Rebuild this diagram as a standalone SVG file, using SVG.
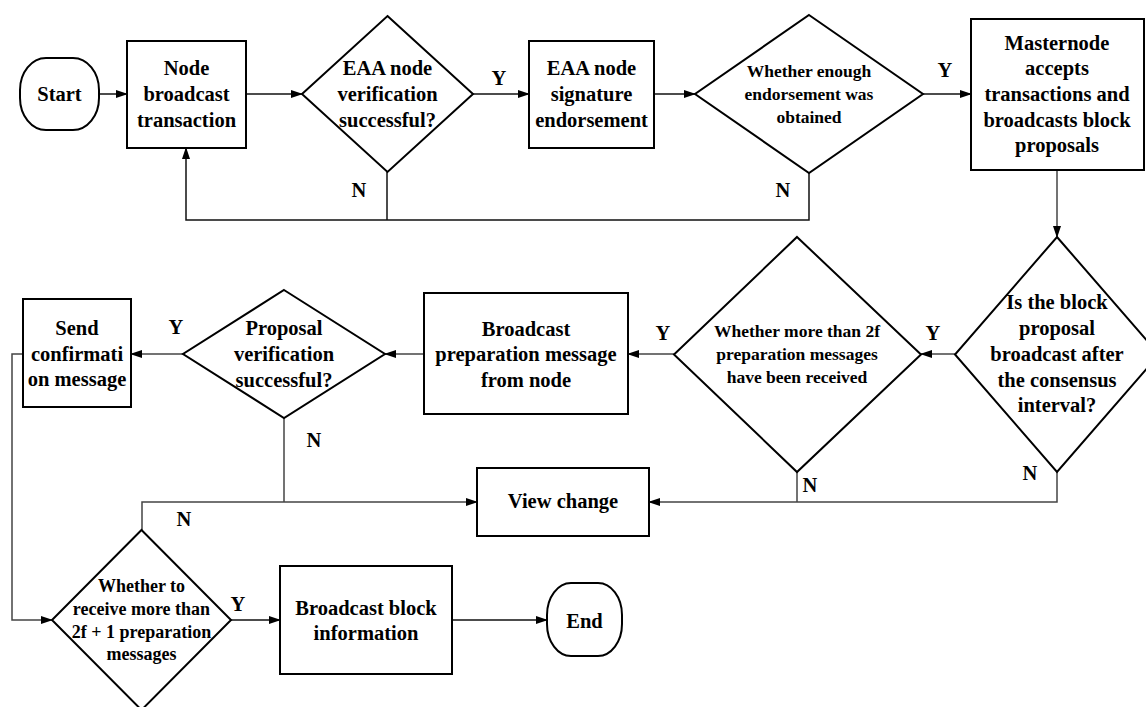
<svg xmlns="http://www.w3.org/2000/svg" width="1146" height="707" viewBox="0 0 1146 707">
  <defs>
    <marker id="arrow" markerUnits="userSpaceOnUse" markerWidth="12" markerHeight="8" refX="11" refY="4" orient="auto">
      <path d="M0,0 L12,4 L0,8 Z" fill="#000"/>
    </marker>
    <style>
      .shape { fill: #fff; stroke: #000; stroke-width: 2; }
      .conn { fill: none; stroke: #111; stroke-width: 1.5; }
      .conn.grey { stroke: #444; }
      .arr { marker-end: url(#arrow); }
      text { font-family: "Liberation Serif", "Times New Roman", "DejaVu Serif", serif; font-weight: 700; fill: #000; text-anchor: middle; }
      .t20 { font-size: 20.5px; }
      .t17 { font-size: 17.5px; }
      .t18 { font-size: 18px; }
      .lbl { font-size: 20.5px; }
    </style>
  </defs>

  <rect width="1146" height="707" fill="#fff"/>

  <!-- connectors -->
  <g id="connectors">
    <path class="conn arr" d="M99,94 H127"/>
    <path class="conn arr" d="M246,94 H302"/>
    <path class="conn arr" d="M473,94 H529"/>
    <path class="conn arr" d="M654,94 H695"/>
    <path class="conn arr" d="M923,94 H971"/>
    <path class="conn" d="M387,172 V220"/>
    <path class="conn arr" d="M809,173 V220 H186 V148"/>
    <path class="conn grey arr" d="M1057,170 V237"/>
    <path class="conn grey arr" d="M955,354 H921"/>
    <path class="conn grey arr" d="M674,354 H628"/>
    <path class="conn grey arr" d="M424,354 H385"/>
    <path class="conn grey arr" d="M183,354 H131"/>
    <path class="conn grey arr" d="M23,354 H12 V620 H52"/>
    <path class="conn grey" d="M284,418 V502"/>
    <path class="conn grey arr" d="M142,530 V502 H477"/>
    <path class="conn grey" d="M797,472 V502"/>
    <path class="conn grey arr" d="M1057,472 V502 H649"/>
    <path class="conn arr" d="M231,620 H280"/>
    <path class="conn arr" d="M452,620 H547"/>

    <!-- branch labels -->
    <text class="lbl" x="499" y="85">Y</text>
    <text class="lbl" x="945" y="77">Y</text>
    <text class="lbl" x="359" y="197">N</text>
    <text class="lbl" x="783" y="197">N</text>
    <text class="lbl" x="933" y="340">Y</text>
    <text class="lbl" x="663" y="340">Y</text>
    <text class="lbl" x="1030" y="480">N</text>
    <text class="lbl" x="810" y="492">N</text>
    <text class="lbl" x="176" y="334">Y</text>
    <text class="lbl" x="314" y="447">N</text>
    <text class="lbl" x="184" y="526">N</text>
    <text class="lbl" x="238" y="611">Y</text>
  </g>

  <g id="start">
    <rect class="shape" x="20" y="58" width="79" height="72" rx="26" ry="32"/>
    <text class="t20" x="59.5" y="101">Start</text>
  </g>

  <g id="node-broadcast">
    <rect class="shape" x="127" y="41" width="119" height="107"/>
    <text class="t20" x="186.5" y="75">Node</text>
    <text class="t20" x="186.5" y="101">broadcast</text>
    <text class="t20" x="186.5" y="127">transaction</text>
  </g>

  <g id="eaa-verify">
    <polygon class="shape" points="387.5,16 473,94 387.5,172 302,94"/>
    <text class="t20" x="387.5" y="75">EAA node</text>
    <text class="t20" x="387.5" y="101">verification</text>
    <text class="t20" x="387.5" y="127">successful?</text>
  </g>

  <g id="eaa-endorse">
    <rect class="shape" x="529" y="41" width="125" height="107"/>
    <text class="t20" x="591.5" y="75">EAA node</text>
    <text class="t20" x="591.5" y="101">signature</text>
    <text class="t20" x="591.5" y="127">endorsement</text>
  </g>

  <g id="enough-endorsement">
    <polygon class="shape" points="809,15 923,94 809,173 695,94"/>
    <text class="t17" x="809" y="77">Whether enough</text>
    <text class="t17" x="809" y="100">endorsement was</text>
    <text class="t17" x="809" y="123">obtained</text>
  </g>

  <g id="masternode">
    <rect class="shape" x="971" y="19" width="173" height="151"/>
    <text class="t20" x="1057" y="50">Masternode</text>
    <text class="t20" x="1057" y="75">accepts</text>
    <text class="t20" x="1057" y="101">transactions and</text>
    <text class="t20" x="1057" y="127">broadcasts block</text>
    <text class="t20" x="1057" y="152">proposals</text>
  </g>

  <g id="consensus-interval">
    <polygon class="shape" points="1057,237 1159,354.5 1057,472 955,354.5"/>
    <text class="t20" x="1057" y="309">Is the block</text>
    <text class="t20" x="1057" y="335">proposal</text>
    <text class="t20" x="1057" y="361">broadcast after</text>
    <text class="t20" x="1057" y="387">the consensus</text>
    <text class="t20" x="1057" y="412">interval?</text>
  </g>

  <g id="prep-received">
    <polygon class="shape" points="797,237 921,354.5 797,472 674,354.5"/>
    <text class="t17" x="797" y="337">Whether more than 2f</text>
    <text class="t17" x="797" y="360">preparation messages</text>
    <text class="t17" x="797" y="383">have been received</text>
  </g>

  <g id="broadcast-prep">
    <rect class="shape" x="424" y="293" width="204" height="121"/>
    <text class="t20" x="526" y="336">Broadcast</text>
    <text class="t20" x="526" y="361">preparation message</text>
    <text class="t20" x="526" y="387">from node</text>
  </g>

  <g id="proposal-verify">
    <polygon class="shape" points="284,290 385,354 284,418 183,354"/>
    <text class="t20" x="284" y="335">Proposal</text>
    <text class="t20" x="284" y="361">verification</text>
    <text class="t20" x="284" y="387">successful?</text>
  </g>

  <g id="send-confirm">
    <rect class="shape" x="23" y="299" width="108" height="108"/>
    <text class="t20" x="77" y="335">Send</text>
    <text class="t20" x="77" y="361">confirmati</text>
    <text class="t20" x="77" y="386">on message</text>
  </g>

  <g id="view-change">
    <rect class="shape" x="477" y="468" width="172" height="68"/>
    <text class="t20" x="563" y="508">View change</text>
  </g>

  <g id="commit-threshold">
    <polygon class="shape" points="141.5,530 231,620 141.5,710 52,620"/>
    <text class="t18" x="141.5" y="592">Whether to</text>
    <text class="t18" x="141.5" y="615">receive more than</text>
    <text class="t18" x="141.5" y="638">2f + 1 preparation</text>
    <text class="t18" x="141.5" y="660">messages</text>
  </g>

  <g id="broadcast-block">
    <rect class="shape" x="280" y="566" width="172" height="108"/>
    <text class="t20" x="366" y="615">Broadcast block</text>
    <text class="t20" x="366" y="640">information</text>
  </g>

  <g id="end">
    <rect class="shape" x="547" y="583" width="75" height="73" rx="24" ry="32"/>
    <text class="t20" x="584.5" y="628">End</text>
  </g>
</svg>
